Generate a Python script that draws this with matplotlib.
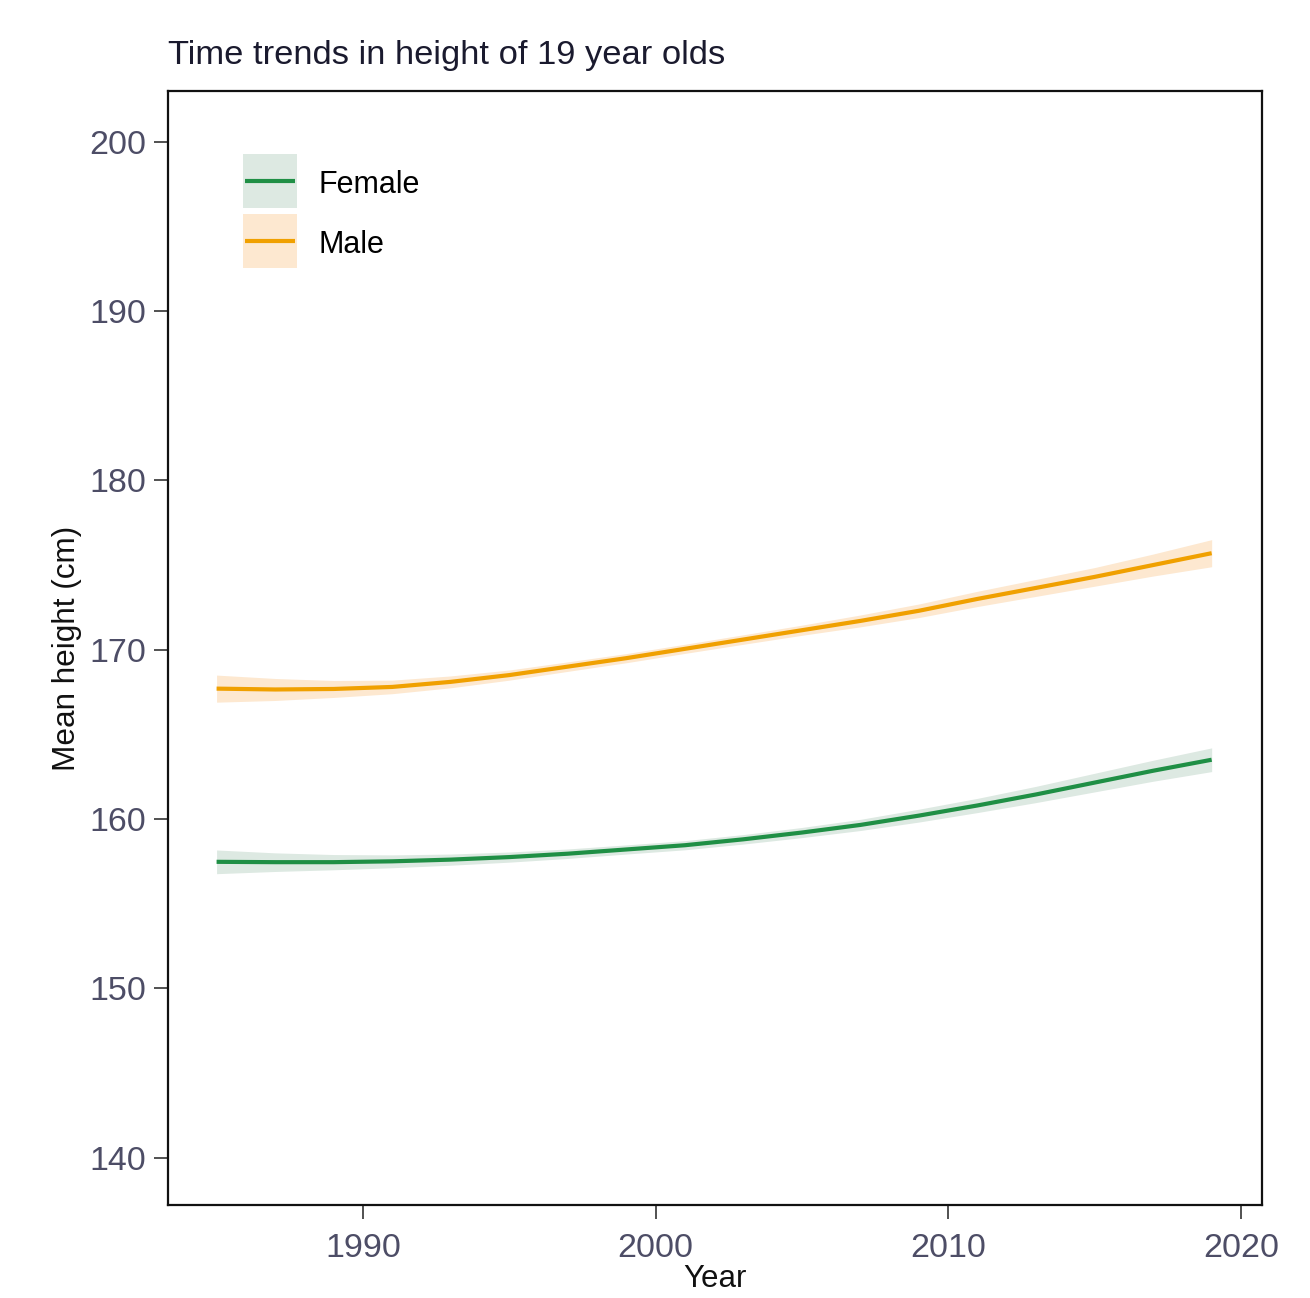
import matplotlib
matplotlib.use("Agg")
import matplotlib.pyplot as plt
from matplotlib.patches import Rectangle
from matplotlib.lines import Line2D
from matplotlib.legend_handler import HandlerBase

plt.rcParams['font.family'] = ['Liberation Sans', 'DejaVu Sans']

years = [1985, 1987, 1989, 1991, 1993, 1995, 1997, 1999, 2001, 2003,
         2005, 2007, 2009, 2011, 2013, 2015, 2017, 2019]
male = [167.7, 167.65, 167.68, 167.8, 168.1, 168.5, 169.0, 169.5, 170.05, 170.6,
        171.15, 171.7, 172.3, 173.0, 173.65, 174.3, 175.0, 175.7]
female = [157.47, 157.45, 157.45, 157.5, 157.6, 157.75, 157.95, 158.2, 158.45, 158.8,
          159.2, 159.65, 160.2, 160.8, 161.45, 162.15, 162.85, 163.5]
male_ci = [0.8, 0.65, 0.5, 0.4, 0.35, 0.3, 0.28, 0.27, 0.27, 0.28,
           0.3, 0.35, 0.4, 0.45, 0.5, 0.55, 0.65, 0.8]
female_ci = [0.7, 0.55, 0.45, 0.38, 0.33, 0.3, 0.28, 0.27, 0.27, 0.28,
             0.3, 0.33, 0.38, 0.42, 0.48, 0.55, 0.62, 0.7]
labels = ['Female', 'Male']

xticks = [1990, 2000, 2010, 2020]
yticks = [140, 150, 160, 170, 180, 190, 200]

green = '#1f8f45'
orange = '#f0a000'
green_fill = '#dde9e2'
orange_fill = '#fde8d0'


class BandLine:
    def __init__(self, fill, color):
        self.fill = fill
        self.color = color


class BandLineHandler(HandlerBase):
    def create_artists(self, legend, orig_handle, xdescent, ydescent,
                       width, height, fontsize, trans):
        shift = 2.2
        x0, y0 = -xdescent, -ydescent + shift
        rect = Rectangle((x0, y0), width, height, facecolor=orig_handle.fill,
                         edgecolor='none', transform=trans)
        line = Line2D([x0 + 1.5, x0 + width - 1.5], [y0 + height / 2] * 2,
                      color=orig_handle.color, lw=3, transform=trans,
                      solid_capstyle='butt')
        return [rect, line]


fig = plt.figure(figsize=(13.1, 12.98), dpi=100)
ax = fig.add_axes([168/1310, 1-1205/1298, (1262-168)/1310, (1205-91)/1298])

f_lo = [v - c for v, c in zip(female, female_ci)]
f_hi = [v + c for v, c in zip(female, female_ci)]
m_lo = [v - c for v, c in zip(male, male_ci)]
m_hi = [v + c for v, c in zip(male, male_ci)]

ax.fill_between(years, f_lo, f_hi, color=green_fill, lw=0, zorder=1)
ax.fill_between(years, m_lo, m_hi, color=orange_fill, lw=0, zorder=1)
ax.plot(years, female, color=green, lw=3, zorder=3, solid_capstyle='butt')
ax.plot(years, male, color=orange, lw=3, zorder=3, solid_capstyle='butt')

ax.set_xlim(1983.34, 2020.72)
ax.set_ylim(137.2, 203.0)
ax.set_xticks(xticks)
ax.set_yticks(yticks)
ax.tick_params(axis='both', length=10, width=1.2, color='#333333',
               labelsize=24.5, labelcolor='#4d4d66')
ax.tick_params(axis='x', pad=10)
ax.tick_params(axis='y', pad=6)
for s in ax.spines.values():
    s.set_linewidth(1.6)
    s.set_color('#111111')

ax.set_xlabel('Year', fontsize=22.5, color='#111111', labelpad=0)
ax.set_ylabel('Mean height (cm)', fontsize=22.7, color='#111111', labelpad=5)
fig.text(168/1310, 1-64/1298, 'Time trends in height of 19 year olds',
         fontsize=24.8, color='#1a1a2e', ha='left', va='baseline')

handles = [BandLine(green_fill, green), BandLine(orange_fill, orange)]
ax.legend(handles, labels, handler_map={BandLine: BandLineHandler()},
          loc='upper left', bbox_to_anchor=(243/1310, 1-157/1298),
          bbox_transform=fig.transFigure, frameon=False, fontsize=22,
          handlelength=1.76, handleheight=2.34, labelspacing=0.2,
          handletextpad=0.72, borderpad=0, borderaxespad=0)

fig.savefig('out.png', dpi=100, facecolor='white')
